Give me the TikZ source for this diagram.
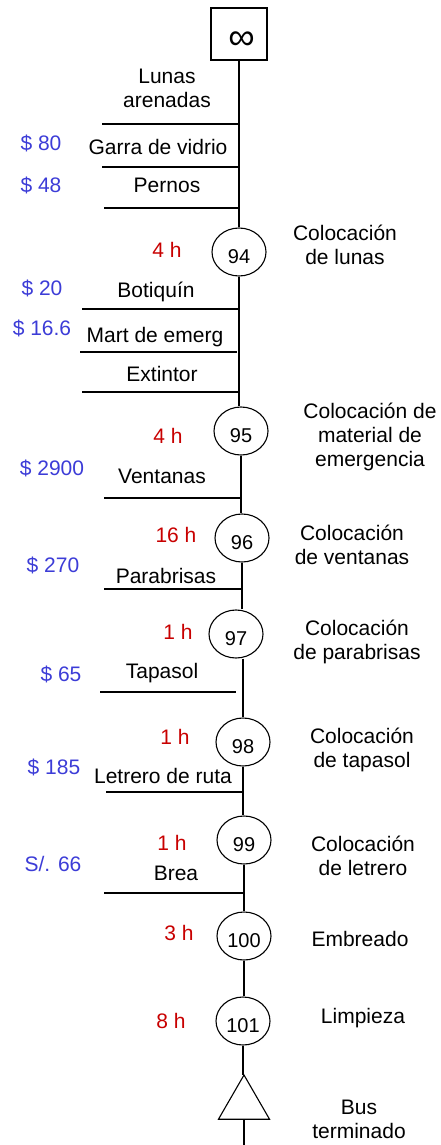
\documentclass[tikz,border=0pt]{standalone}
\usepackage{fontspec}
\setmainfont{Liberation Sans}
\usetikzlibrary{shapes.geometric}
\definecolor{costblue}{RGB}{60,60,215}
\definecolor{timered}{RGB}{200,0,0}
\begin{document}
\begin{tikzpicture}[x=1pt,y=-1pt,
  txt/.style={font=\fontsize{21}{24}\selectfont, inner sep=0pt, align=center},
  cost/.style={txt, text=costblue},
  hrs/.style={txt, text=timered},
  opnode/.style={ellipse, draw, line width=1.1pt, minimum width=54pt, minimum height=48pt, inner sep=0pt, text height=22pt, text depth=0pt, font=\fontsize{20}{24}\selectfont},
  storebox/.style={rectangle, draw, line width=1.1pt, minimum width=56pt, minimum height=52pt, inner sep=0pt, text height=32pt, text depth=0pt, font=\fontsize{37}{37}\selectfont},
  endtri/.style={regular polygon, regular polygon sides=3, draw, line width=1.1pt, minimum size=59pt, inner sep=0pt, outer sep=0pt},
  conn/.style={line width=1.1pt}]
\useasboundingbox (0,0) rectangle (441,1145);

% main nodes
\node[storebox] (box) at (239,34) {\hspace{5pt}∞};
\node[opnode] (c94) at (239,252) {94};
\node[opnode] (c95) at (241,431) {95};
\node[opnode] (c96) at (242,538) {96};
\node[opnode] (c97) at (236,634) {97};
\node[opnode] (c98) at (243,742) {98};
\node[opnode] (c99) at (244,840) {99};
\node[opnode] (c100) at (244,936) {100};
\node[opnode] (c101) at (243,1021) {101};
\node[endtri] (tri) at (244,1104.5) {};
\coordinate (bottom) at (244,1145);

% axis connectors
\draw[conn] (box.south) -- (box.south |- c94.north);
\draw[conn] (c94.south) -- (c94.south |- c95.north);
\draw[conn] (c95.south) -- (c95.south |- c96.north);
\draw[conn] (c96.south) -- (c96.south |- c97.north);
\draw[conn] (c97.south -| c98.north) -- (c98.north);
\draw[conn] (c98.south) -- (c98.south |- c99.north);
\draw[conn] (c99.south) -- (c99.south |- c100.north);
\draw[conn] (c100.south) -- (c100.south |- c101.north);
\draw[conn] (c101.south) -- (c101.south |- tri.corner 1);
\draw[conn] (tri.south) -- (bottom);

% material input lines
\coordinate (m1) at (102,124);
\coordinate (m2) at (102,167);
\coordinate (m3) at (104,208);
\coordinate (m4) at (82,309);
\coordinate (m5) at (80,352);
\coordinate (m5e) at (237,352);
\coordinate (m6) at (82,392);
\coordinate (m7) at (104,498);
\coordinate (m8) at (104,589);
\coordinate (m9) at (100,692);
\coordinate (m9e) at (236,692);
\coordinate (m10) at (106,792);
\coordinate (m11) at (104,893);
\draw[conn] (m1) -- (m1 -| box.south);
\draw[conn] (m2) -- (m2 -| box.south);
\draw[conn] (m3) -- (m3 -| box.south);
\draw[conn] (m4) -- (m4 -| c94.south);
\draw[conn] (m5) -- (m5e);
\draw[conn] (m6) -- (m6 -| c94.south);
\draw[conn] (m7) -- (m7 -| c95.south);
\draw[conn] (m8) -- (m8 -| c96.south);
\draw[conn] (m9) -- (m9e);
\draw[conn] (m10) -- (m10 -| c98.south);
\draw[conn] (m11) -- (m11 -| c99.south);

% material labels
\node[txt] (t1) at (167,88) {Lunas\\arenadas};
\node[txt] (t2) at (158,147) {Garra de vidrio};
\node[txt] (t3) at (167,185) {Pernos};
\node[txt] (t4) at (156,292) {Botiquín};
\node[txt] (t5) at (155,337) {Mart de emerg};
\node[txt] (t6) at (162,374) {Extintor};
\node[txt] (t7) at (162,476) {Ventanas};
\node[txt] (t8) at (166,576) {Parabrisas};
\node[txt] (t9) at (162,673) {Tapasol};
\node[txt] (t10) at (163,776) {Letrero de ruta};
\node[txt] (t11) at (176,873) {Brea};

% costs
\node[cost] (k1) at (41,143) {\$ 80};
\node[cost] (k2) at (41,185) {\$ 48};
\node[cost] (k3) at (42,288) {\$ 20};
\node[cost] (k4) at (42,328) {\$ 16.6};
\node[cost] (k5) at (52,468) {\$ 2900};
\node[cost] (k6) at (53,565) {\$ 270};
\node[cost] (k7) at (61,674) {\$ 65};
\node[cost] (k8) at (54,767) {\$ 185};
\node[cost] (k9) at (53,864) {S/. 66};

% times
\node[hrs] (h1) at (167,250) {4 h};
\node[hrs] (h2) at (168,436) {4 h};
\node[hrs] (h3) at (176,535) {16 h};
\node[hrs] (h4) at (178,632) {1 h};
\node[hrs] (h5) at (175,737) {1 h};
\node[hrs] (h6) at (172,843) {1 h};
\node[hrs] (h7) at (179,933) {3 h};
\node[hrs] (h8) at (171,1021) {8 h};

% operation descriptions
\node[txt] (d1) at (345,245) {Colocación\\de lunas};
\node[txt] (d2) at (370,437) {Colocación de\\material de\\emergencia};
\node[txt] (d3) at (352,545) {Colocación\\de ventanas};
\node[txt] (d4) at (357,642) {Colocación\\de parabrisas};
\node[txt] (d5) at (362,750) {Colocación\\de tapasol};
\node[txt] (d6) at (363,856) {Colocación\\de letrero};
\node[txt] (d7) at (360,939) {Embreado};
\node[txt] (d8) at (363,1018) {Limpieza};
\node[txt] (d9) at (359,1119) {Bus\\terminado};
\end{tikzpicture}
\end{document}
